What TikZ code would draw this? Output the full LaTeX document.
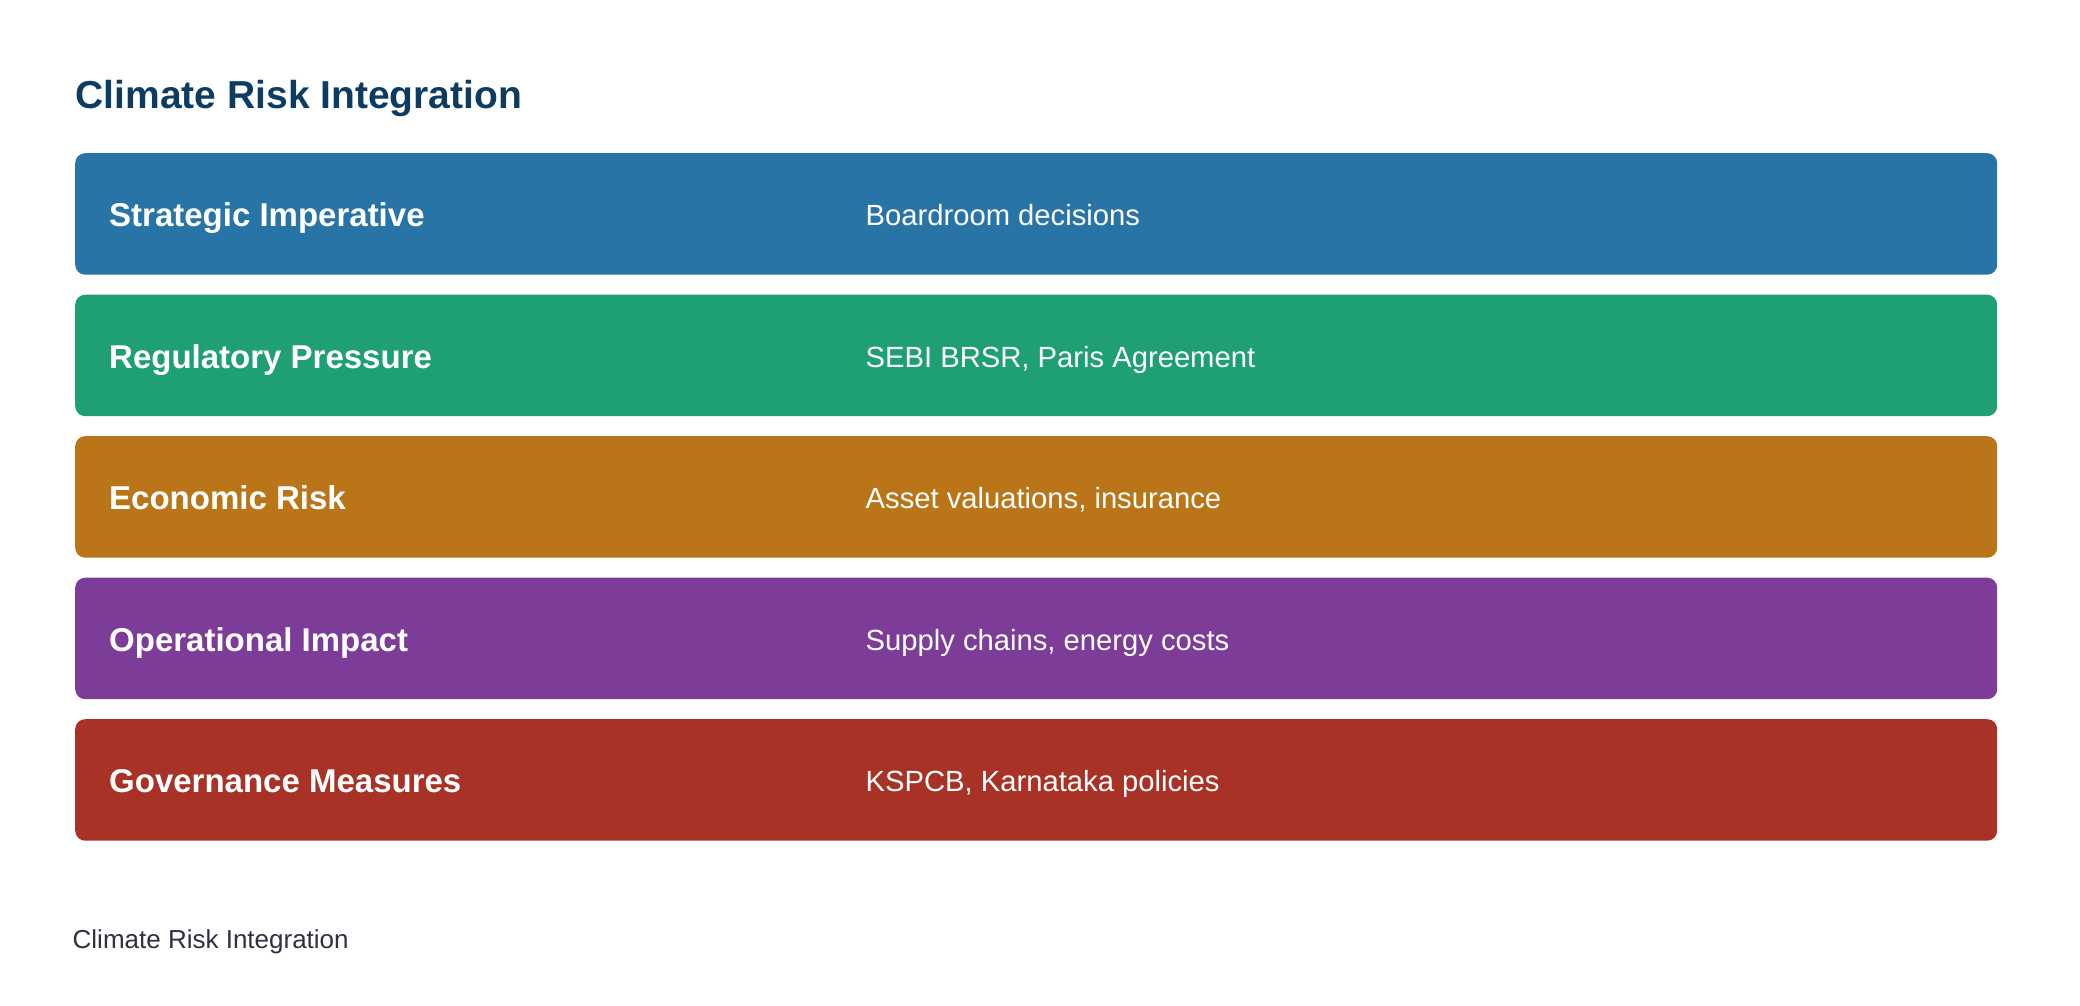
\documentclass[tikz,border=0pt]{standalone}
\usepackage{fontspec}
\setmainfont{Liberation Sans}
\definecolor{titlec}{HTML}{0C3C62}
\definecolor{footc}{HTML}{30303F}
\definecolor{cblue}{HTML}{2874A6}
\definecolor{cgreen}{HTML}{1F9F75}
\definecolor{corange}{HTML}{BA7518}
\definecolor{cpurple}{HTML}{7D3C98}
\definecolor{cred}{HTML}{A93226}
\tikzset{
  bar/.style={draw=none, rounded corners=10pt, minimum width=1922pt, minimum height=121.5pt, inner sep=0pt, anchor=north west},
  lbl/.style={anchor=base west, inner sep=0pt, text=white, font=\fontsize{33}{40}\selectfont\bfseries},
  desc/.style={anchor=base west, inner sep=0pt, text=white, font=\fontsize{29.2}{35}\selectfont},
}
\begin{document}
\begin{tikzpicture}[x=1pt,y=1pt]
\useasboundingbox (0,0) rectangle (2080,1006);
\node[anchor=base west, inner sep=0pt, text=titlec, font=\fontsize{39}{47}\selectfont\bfseries] (title) at (75.5,897) {Climate Risk Integration};
\foreach \i/\c/\l/\d in {0/cblue/Strategic Imperative/Boardroom decisions,
                         1/cgreen/Regulatory Pressure/{SEBI BRSR, Paris Agreement},
                         2/corange/Economic Risk/{Asset valuations, insurance},
                         3/cpurple/Operational Impact/{Supply chains, energy costs},
                         4/cred/Governance Measures/{KSPCB, Karnataka policies}} {
  \node[bar, fill=\c] (bar\i) at (75,853-141.5*\i) {};
  \node[lbl] (lbl\i) at (109,779-141.5*\i) {\l};
  \node[desc] (desc\i) at (865.5,780-141.5*\i) {\d};
}
\node[anchor=base west, inner sep=0pt, text=footc, font=\fontsize{26}{31}\selectfont] (foot) at (72.5,57) {Climate Risk Integration};
\end{tikzpicture}
\end{document}
